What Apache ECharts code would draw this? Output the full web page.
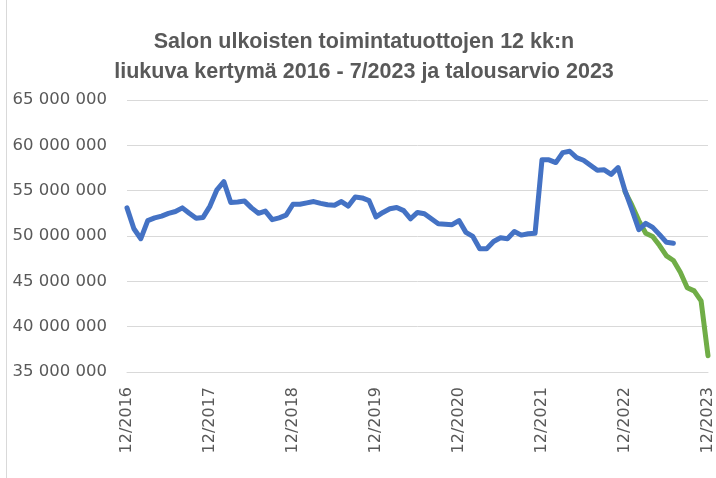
<!DOCTYPE html>
<html>
<head>
<meta charset="utf-8">
<script src="https://cdn.jsdelivr.net/npm/echarts@6/dist/echarts.min.js"></script>
<style>
  html, body { margin: 0; padding: 0; background: #fff; }
  #chart { width: 716px; height: 478px; }
</style>
</head>
<body>
<div id="chart"></div>
<script>
// months 12/2016 .. 12/2023
const categories = [];
for (let y = 2016; y <= 2023; y++) {
  for (let m = 1; m <= 12; m++) {
    if (y === 2016 && m < 12) continue;
    categories.push(m + '/' + y);
  }
}

// actual 12-month rolling sum, 12/2016 .. 7/2023 (millions of euros)
const actual = [
  53.1, 50.8, 49.7, 51.7, 52.0, 52.2, 52.5, 52.7, 53.1, 52.5, 51.95, 52.05,
  53.3, 55.1, 56.0, 53.7, 53.75, 53.85, 53.1, 52.5, 52.75, 51.8, 52.0, 52.3,
  53.5, 53.5, 53.65, 53.8, 53.6, 53.45, 53.4, 53.8, 53.3, 54.3, 54.2, 53.9,
  52.1, 52.6, 53.0, 53.15, 52.8, 51.9, 52.6, 52.45, 51.9, 51.35, 51.3, 51.25,
  51.7, 50.4, 49.95, 48.6, 48.6, 49.4, 49.8, 49.7, 50.5, 50.1, 50.25, 50.3,
  58.4, 58.4, 58.1, 59.2, 59.35, 58.65, 58.35, 57.8, 57.25, 57.3, 56.8, 57.55,
  55.0, 52.9, 50.7, 51.4, 50.95, 50.15, 49.3, 49.2
];

// budget 2023, 12/2022 .. 12/2023 (millions of euros)
const budgetStart = '12/2022';
const budget = [
  54.9, 53.4, 51.7, 50.3, 49.95, 48.95, 47.8, 47.3, 46.0, 44.3, 43.95, 42.85, 36.8
];

const yTicks = { min: 35, max: 65, step: 5 };

const titleLines = [
  'Salon ulkoisten toimintatuottojen 12 kk:n',
  'liukuva kertymä 2016 - 7/2023 ja talousarvio 2023'
];

const offset = categories.indexOf(budgetStart);
const budgetSeries = categories.map((c, i) =>
  i >= offset && i - offset < budget.length ? budget[i - offset] : null);

const fmt = v => String(Math.round(v * 1000000)).replace(/\B(?=(\d{3})+(?!\d))/g, ' ');

const titleStyle = {
  fontFamily: 'Liberation Sans',
  fontWeight: 'bold',
  fontSize: 21.5,
  fill: '#595959',
  textAlign: 'center',
  textVerticalAlign: 'middle'
};

const chart = echarts.init(document.getElementById('chart'));
chart.setOption({
  animation: false,
  backgroundColor: '#fff',
  graphic: [
    {
      type: 'line',
      shape: { x1: 6.5, y1: 0, x2: 6.5, y2: 478 },
      style: { stroke: '#d9d9d9', lineWidth: 1 }
    },
    { type: 'text', x: 364, y: 42, style: Object.assign({ text: titleLines[0] }, titleStyle) },
    { type: 'text', x: 364, y: 72, style: Object.assign({ text: titleLines[1] }, titleStyle) }
  ],
  grid: { left: 127, right: 6, top: 100, bottom: 106 },
  xAxis: {
    type: 'category',
    data: categories,
    boundaryGap: false,
    axisLine: { lineStyle: { color: '#d9d9d9', width: 1 } },
    axisTick: { show: false },
    axisLabel: {
      interval: 11,
      rotate: 90,
      margin: 15,
      fontFamily: 'DejaVu Sans',
      fontSize: 16,
      color: '#595959'
    },
    splitLine: { show: false }
  },
  yAxis: {
    type: 'value',
    min: yTicks.min,
    max: yTicks.max,
    interval: yTicks.step,
    axisLine: { show: false },
    axisTick: { show: false },
    axisLabel: {
      margin: 20,
      fontFamily: 'DejaVu Sans',
      fontSize: 16.5,
      color: '#595959',
      formatter: fmt
    },
    splitLine: { lineStyle: { color: '#d9d9d9', width: 1 } }
  },
  series: [
    {
      name: 'Talousarvio 2023',
      type: 'line',
      data: budgetSeries,
      showSymbol: false,
      symbol: 'none',
      lineStyle: { color: '#70AD47', width: 5, cap: 'round', join: 'round' }
    },
    {
      name: 'Toteutuma',
      type: 'line',
      data: actual,
      showSymbol: false,
      symbol: 'none',
      lineStyle: { color: '#4472C4', width: 5, cap: 'round', join: 'round' }
    }
  ]
});
</script>
</body>
</html>
